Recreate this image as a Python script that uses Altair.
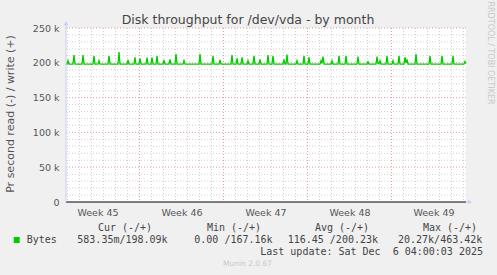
import altair as alt
import pandas as pd

# ---------------- data ----------------
title_text = "Disk throughput for /dev/vda - by month"
y_title = "Pr second read (-) / write (+)"

# write (+) series: hours since start of the 800 h window, value in kB/s
write_hours = [
    0, 2, 4, 6, 14, 16, 18, 32, 34, 36, 54, 56, 58, 64, 66, 68,
    84, 86, 88, 104, 106, 108, 122, 124, 126, 136, 138, 140,
    146, 148, 150, 160, 162, 164, 170, 172, 174, 180, 182, 184,
    194, 196, 198, 206, 208, 210, 218, 220, 222, 234, 236, 238,
    266, 268, 270, 292, 294, 296, 306, 308, 310, 330, 332, 334,
    340, 342, 344, 350, 352, 354, 362, 364, 366, 374, 376, 378,
    386, 388, 390, 402, 404, 406, 412, 414, 416, 434, 436, 438,
    440, 442, 444, 460, 462, 464, 474, 476, 478, 484, 486, 488,
    508, 510, 512, 514, 516, 530, 532, 534, 544, 546, 548,
    558, 560, 562, 582, 584, 586, 602, 604, 606,
    620, 622, 624, 626, 628, 630, 640, 642, 644, 652, 654, 656,
    664, 666, 668, 676, 678, 680, 682, 684, 698, 700, 702,
    726, 728, 730, 750, 752, 754, 772, 774, 776, 796, 798, 800,
]
write_kbytes = [
    198, 198, 203, 198, 198, 211, 198, 198, 211, 198, 198, 210, 198, 198, 203, 198,
    198, 210, 198, 198, 215.5, 198, 198, 204, 198, 198, 208, 198,
    198, 206.5, 198, 198, 207.5, 198, 198, 208, 198, 198, 210, 198,
    198, 204, 198, 198, 205, 198, 198, 212.5, 198, 198, 203, 198,
    198, 212.5, 198, 198, 210, 198, 198, 204, 198, 198, 211, 198,
    198, 206.5, 198, 198, 208, 198, 198, 203, 198, 198, 210, 198,
    198, 205, 198, 198, 211, 198, 198, 210, 198, 198, 205, 198,
    198, 212, 198, 198, 203, 198, 198, 210, 198, 198, 208, 198,
    198, 203, 199, 209, 198, 198, 203, 198, 198, 210, 198,
    198, 210, 198, 198, 209, 198, 198, 201.5, 198,
    198, 209, 199, 199, 203, 198, 198, 210, 198, 198, 203, 198,
    198, 210, 198, 198, 208, 200, 205, 198, 198, 212.5, 198,
    198, 210, 198, 198, 210, 198, 198, 210, 198, 198, 202, 199,
]

y_ticks = [0, 50000, 100000, 150000, 200000, 250000]
y_labels = ["0", "50 k", "100 k", "150 k", "200 k", "250 k"]
y_minor = [10000 * i for i in range(26)]
week_centers = [63, 231, 399, 567, 735]
week_labels = ["Week 45", "Week 46", "Week 47", "Week 48", "Week 49"]
week_starts = [147, 315, 483, 651]
day_lines = [3 + 24 * i for i in range(34)]

legend_heads = ["Cur (-/+)", "Min (-/+)", "Avg (-/+)", "Max (-/+)"]
legend_values = ["583.35m/198.09k", "0.00 /167.16k", "116.45 /200.23k", "20.27k/463.42k"]
series_name = "Bytes"
last_update = "Last update: Sat Dec\u00a0 6 04:00:03 2025"
munin_text = "Munin 2.0.67"
rrd_text = "RRDTOOL / TOBI OETIKER"

# ---------------- layout ----------------
LEFT, TOP, W, H = 66, 28, 400, 174
TOTAL_W, TOTAL_H = 497, 275
GREEN = "#00CC00"
AXIS_BLUE = "#C8D0F4"
MINOR = "#D2D2D2"
MAJOR = "#E4A0A0"
SANS = "DejaVu Sans"
MONO = "DejaVu Sans Mono"

xscale = alt.Scale(domain=[0, 800], nice=False, zero=False)
yscale = alt.Scale(domain=[0, 250000], nice=False, zero=False)

x_axis = alt.Axis(
    values=week_centers,
    labelExpr="%s[indexof(%s, datum.value)]" % (repr(week_labels), week_centers),
    ticks=False, domain=False, grid=False, title=None,
    labelFont=SANS, labelFontSize=9.5, labelColor="#555555",
    labelPadding=5, labelFlush=False, labelOverlap=False,
)
y_axis = alt.Axis(
    values=y_ticks,
    labelExpr="%s[indexof(%s, datum.value)]" % (repr(y_labels), y_ticks),
    ticks=False, domain=False, grid=False, title=None,
    labelFont=SANS, labelFontSize=9.5, labelColor="#555555",
    labelPadding=7, labelFlush=False, labelOverlap=False,
)


def X(field):
    return alt.X(field, type="quantitative", scale=xscale, axis=x_axis)


def Y(field):
    return alt.Y(field, type="quantitative", scale=yscale, axis=y_axis)


df_write = pd.DataFrame({"h": write_hours, "v": [k * 1000 for k in write_kbytes]})

minor_h = alt.Chart(pd.DataFrame({"y": [v for v in y_minor if v % 50000]})).mark_rule(
    color=MINOR, strokeDash=[1, 2], strokeWidth=1).encode(y=Y("y"))
minor_v = alt.Chart(pd.DataFrame({"x": [d for d in day_lines if d not in week_starts]})).mark_rule(
    color=MINOR, strokeDash=[1, 2], strokeWidth=1).encode(x=X("x"))
major_h = alt.Chart(pd.DataFrame({"y": [v for v in y_ticks if v > 0]})).mark_rule(
    color=MAJOR, strokeDash=[1, 2], strokeWidth=1).encode(y=Y("y"))
major_v = alt.Chart(pd.DataFrame({"x": week_starts})).mark_rule(
    color=MAJOR, strokeDash=[1, 2], strokeWidth=1).encode(x=X("x"))

line = alt.Chart(df_write).mark_line(color=GREEN, strokeWidth=1.3).encode(x=X("h"), y=Y("v"))

zero = alt.Chart(pd.DataFrame({"y": [0]})).mark_rule(color="#000000", strokeWidth=1).encode(y=Y("y"))

yaxis_line = alt.Chart(pd.DataFrame({"x": [0], "y": [0], "y2": [257000]})).mark_rule(
    color=AXIS_BLUE, strokeWidth=1).encode(x=X("x"), y=Y("y"), y2="y2")
arrow_up = alt.Chart(pd.DataFrame({"x": [0], "y": [257000]})).mark_point(
    shape="triangle-up", filled=True, color=AXIS_BLUE, size=22, opacity=1).encode(x=X("x"), y=Y("y"))
xaxis_ext = alt.Chart(pd.DataFrame({"x": [800], "x2": [808], "y": [0]})).mark_rule(
    color=AXIS_BLUE, strokeWidth=1).encode(x=X("x"), x2="x2", y=Y("y"))
arrow_right = alt.Chart(pd.DataFrame({"x": [808], "y": [0]})).mark_point(
    shape="triangle-right", filled=True, color=AXIS_BLUE, size=22, opacity=1).encode(x=X("x"), y=Y("y"))


def label(text, x, y, size, color, font, align="left", baseline="middle", angle=0):
    return alt.Chart(pd.DataFrame({"t": [text]})).mark_text(
        align=align, baseline=baseline, font=font, fontSize=size, color=color, angle=angle
    ).encode(x=alt.value(x - LEFT), y=alt.value(y - TOP), text="t:N")


texts = [
    label(title_text, 248, 24, 12.5, "#444444", SANS, align="center", baseline="alphabetic"),
    label(y_title, 11, 114, 11, "#555555", SANS, align="center", angle=270),
    label(rrd_text, 490, 53, 8, "#C8C8C8", SANS, align="center", angle=90),
    label(legend_heads[0], 125, 227.5, 10, "#444444", MONO, align="center"),
    label(legend_heads[1], 234, 227.5, 10, "#444444", MONO, align="center"),
    label(legend_heads[2], 342, 227.5, 10, "#444444", MONO, align="center"),
    label(legend_heads[3], 450, 227.5, 10, "#444444", MONO, align="center"),
    label(series_name, 26.7, 240, 10, "#444444", MONO),
    label(legend_values[0], 77.3, 240, 10, "#444444", MONO),
    label(legend_values[1], 194.3, 240, 10, "#444444", MONO),
    label(legend_values[2], 287.7, 240, 10, "#444444", MONO),
    label(legend_values[3], 398, 240, 10, "#444444", MONO),
    label(last_update, 483, 251.7, 10, "#444444", MONO, align="right"),
    label(munin_text, 247.5, 264, 7.5, "#C8C8C8", SANS, align="center"),
]

swatch = alt.Chart(pd.DataFrame({"s": [series_name]})).mark_square(
    size=36, color=GREEN, filled=True, opacity=1).encode(x=alt.value(16.7 - LEFT), y=alt.value(240 - TOP))

chart = alt.layer(
    minor_h, minor_v, major_h, major_v, line, zero,
    yaxis_line, arrow_up, xaxis_ext, arrow_right, swatch, *texts
).properties(
    width=W, height=H,
    padding={"left": LEFT, "top": TOP, "right": TOTAL_W - LEFT - W, "bottom": TOTAL_H - TOP - H},
    autosize=alt.AutoSizeParams(type="none"),
    background="#F0F0F0",
).configure_view(fill="white", strokeWidth=0)

chart.save("out.html", embed_options={"renderer": "svg", "actions": False})
